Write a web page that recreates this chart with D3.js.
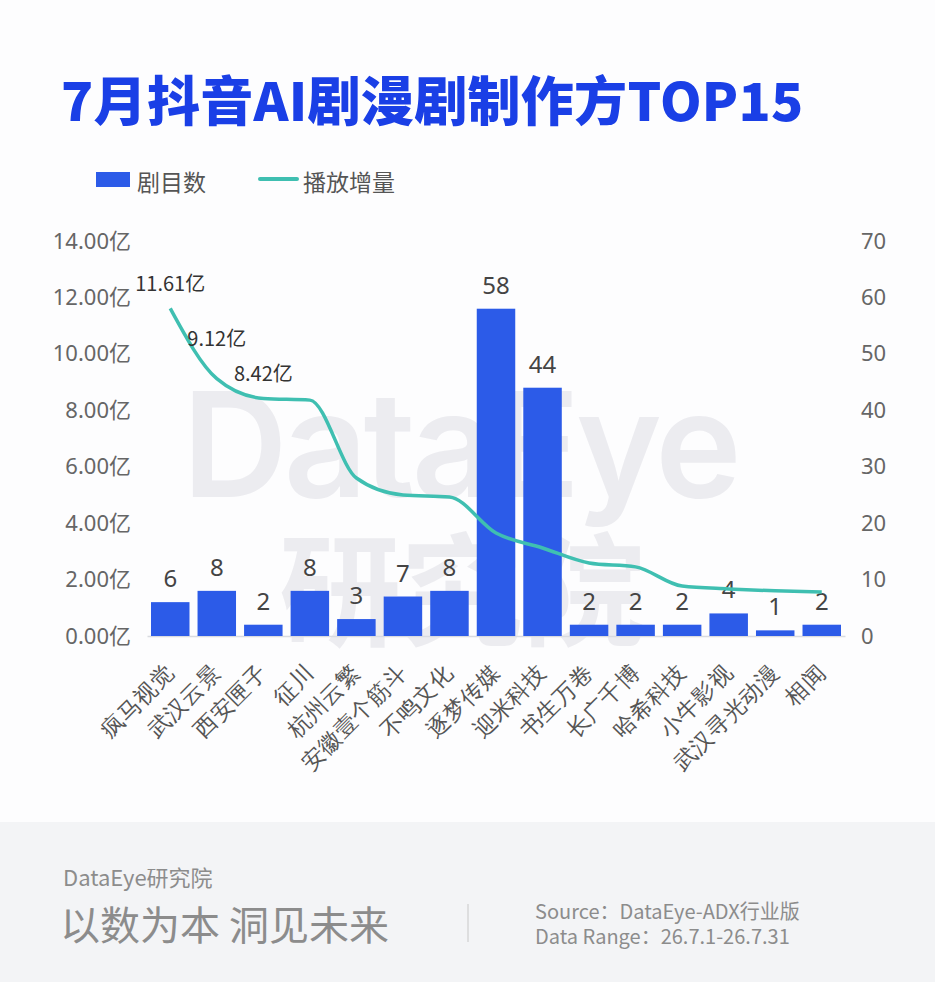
<!DOCTYPE html>
<html>
<head>
<meta charset="utf-8">
<script src="https://cdn.jsdelivr.net/npm/d3@7.9.0/dist/d3.min.js"></script>
<style>
  html, body { margin: 0; padding: 0; background: #fdfdfe; }
  svg { display: block; font-family: "Noto Sans CJK SC", "Noto Sans", sans-serif; }
</style>
</head>
<body>
<svg id="chart" width="935" height="982"></svg>
<script>
// data
const companies = ['疯马视觉', '武汉云景', '西安匣子', '征川', '杭州云繁', '安徽壹个筋斗', '不鸣文化',
  '逐梦传媒', '迎米科技', '书生万卷', '长广千博', '哈希科技', '小牛影视', '武汉寻光动漫', '相闻'];
const dramaCount = [6, 8, 2, 8, 3, 7, 8, 58, 44, 2, 2, 2, 4, 1, 2];
const playGain = [11.61, 9.12, 8.42, 8.36, 5.6, 5.0, 4.93, 3.65, 3.12, 2.59, 2.45, 1.77, 1.67, 1.6, 1.56];
const leftTicks = [0, 2, 4, 6, 8, 10, 12, 14];
const rightTicks = [0, 10, 20, 30, 40, 50, 60, 70];
const labelledPoints = 3; // only the first three line points carry labels

const blue = '#2c5be8';
const teal = '#3fbfb1';
const svg = d3.select('#chart');

// footer band
svg.append('rect').attr('x', 0).attr('y', 822).attr('width', 935).attr('height', 160).attr('fill', '#f3f4f6');

// watermark
svg.append('text').attr('x', 460).attr('y', 497).attr('text-anchor', 'middle')
  .attr('font-family', 'Inter, "Noto Sans", sans-serif').attr('font-weight', 600)
  .attr('font-size', 146).attr('letter-spacing', -4).attr('fill', '#ececf0').text('DataEye');
svg.append('text').attr('x', 462).attr('y', 636).attr('text-anchor', 'middle')
  .attr('font-weight', 700).attr('font-size', 122).attr('fill', '#ececf0').text('研究院');

// title
svg.append('text').attr('x', 61).attr('y', 121).attr('font-size', 53).attr('font-weight', 900)
  .attr('letter-spacing', 0.3).attr('fill', '#1a3fe6').text('7月抖音AI剧漫剧制作方TOP15');

// legend
const legend = svg.append('g').attr('font-size', 23).attr('fill', '#555');
legend.append('rect').attr('x', 96).attr('y', 172).attr('width', 34).attr('height', 15).attr('fill', blue);
legend.append('text').attr('x', 137).attr('y', 181).attr('dominant-baseline', 'central').text('剧目数');
legend.append('line').attr('x1', 260).attr('x2', 297).attr('y1', 179).attr('y2', 179)
  .attr('stroke', teal).attr('stroke-width', 4).attr('stroke-linecap', 'round');
legend.append('text').attr('x', 303).attr('y', 181).attr('dominant-baseline', 'central').text('播放增量');

// scales
const x = d3.scaleBand().domain(companies).range([147, 845]).paddingInner(0.173).paddingOuter(0.086);
const yLeft = d3.scaleLinear().domain([0, 14]).range([636, 241]);
const yRight = d3.scaleLinear().domain([0, 70]).range([636, 241]);

// axes
const leftAxis = svg.append('g').attr('transform', 'translate(147,0)')
  .call(d3.axisLeft(yLeft).tickValues(leftTicks).tickSize(0).tickPadding(16)
    .tickFormat(d => d3.format('.2f')(d) + '亿'));
const rightAxis = svg.append('g').attr('transform', 'translate(845,0)')
  .call(d3.axisRight(yRight).tickValues(rightTicks).tickSize(0).tickPadding(16));
[leftAxis, rightAxis].forEach(a => {
  a.select('.domain').remove();
  a.selectAll('text').attr('font-size', 22).attr('fill', '#666').attr('font-family', '"Noto Sans", "Noto Sans CJK SC", sans-serif');
});

const bottomAxis = svg.append('g').attr('transform', 'translate(0,636)')
  .call(d3.axisBottom(x).tickSize(0).tickPadding(0));
bottomAxis.select('.domain').attr('stroke', '#d9dbe0').attr('stroke-width', 1.5);
bottomAxis.selectAll('text')
  .attr('font-size', 22.5).attr('fill', '#555')
  .attr('text-anchor', 'end').attr('dy', null).attr('y', 0)
  .attr('dominant-baseline', 'middle')
  .attr('transform', 'translate(1,34) rotate(-45)');

// bars
svg.append('g').selectAll('rect').data(companies).join('rect')
  .attr('x', d => x(d))
  .attr('width', x.bandwidth())
  .attr('y', (d, i) => yRight(dramaCount[i]))
  .attr('height', (d, i) => yRight(0) - yRight(dramaCount[i]))
  .attr('fill', blue);

svg.append('g').selectAll('text').data(companies).join('text')
  .attr('x', d => x(d) + x.bandwidth() / 2)
  .attr('y', (d, i) => yRight(dramaCount[i]) - 15)
  .attr('text-anchor', 'middle').attr('font-size', 24).attr('fill', '#444')
  .attr('font-family', '"Noto Sans", sans-serif')
  .text((d, i) => dramaCount[i]);

// line
const line = d3.line()
  .x((d, i) => x(companies[i]) + x.bandwidth() / 2)
  .y(d => yLeft(d))
  .curve(d3.curveMonotoneX);
svg.append('path').datum(playGain).attr('d', line)
  .attr('fill', 'none').attr('stroke', teal).attr('stroke-width', 3.5);

svg.append('g').selectAll('text').data(playGain.slice(0, labelledPoints)).join('text')
  .attr('x', (d, i) => x(companies[i]) + x.bandwidth() / 2)
  .attr('y', (d, i) => yLeft(d) - (i === 1 ? 41 : 26))
  .attr('text-anchor', 'middle').attr('dominant-baseline', 'central')
  .attr('font-size', 20).attr('fill', '#333')
  .text(d => d.toFixed(2) + '亿');

// footer text
svg.append('text').attr('x', 63).attr('y', 886).attr('font-size', 22).attr('fill', '#8c8c8c').text('DataEye研究院');
svg.append('text').attr('x', 60).attr('y', 940).attr('font-size', 40).attr('fill', '#8c8c8c').text('以数为本 洞见未来');
svg.append('line').attr('x1', 468).attr('x2', 468).attr('y1', 904).attr('y2', 942).attr('stroke', '#c8c8c8');
svg.append('text').attr('x', 535).attr('y', 919).attr('font-size', 20).attr('fill', '#8c8c8c').text('Source：DataEye-ADX行业版');
svg.append('text').attr('x', 535).attr('y', 944).attr('font-size', 20).attr('fill', '#8c8c8c').text('Data Range：26.7.1-26.7.31');
</script>
</body>
</html>
